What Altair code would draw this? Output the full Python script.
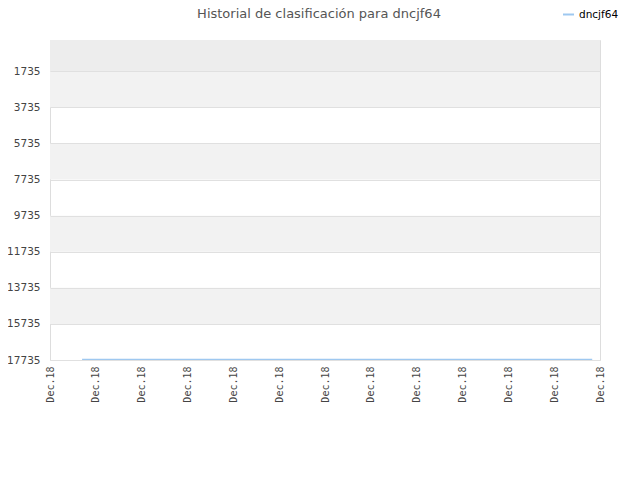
import altair as alt
import pandas as pd

# --- data ---
series_name = "dncjf64"
line_x = [0.7, 2.0, 4.0, 6.0, 8.0, 10.0, 11.83]
line_rank = [17700, 17700, 17700, 17700, 17700, 17700, 17700]

y_ticks = [1735, 3735, 5735, 7735, 9735, 11735, 13735, 15735, 17735]
x_ticks = list(range(13))
x_tick_labels = ["Dec.18"] * 13

band_start = [0, 1735, 5735, 9735, 13735]
band_end = [1735, 3735, 7735, 11735, 15735]
band_shade = ["dark", "light", "light", "light", "light"]

line_df = pd.DataFrame({"x": line_x, "rank": line_rank, "series": [series_name] * len(line_x)})
band_df = pd.DataFrame({"y": band_start, "y2": band_end, "shade": band_shade})

y_scale = alt.Scale(domain=[0, 17735], reverse=True, nice=False, zero=False)
x_scale = alt.Scale(domain=[0, 12], nice=False, zero=False)

label_arr = "[" + ",".join("'%s'" % s for s in x_tick_labels) + "]"

bands = alt.Chart(band_df).mark_rect().encode(
    x=alt.value(0),
    x2=alt.value(550),
    y=alt.Y("y:Q", scale=y_scale, axis=alt.Axis(
        values=y_ticks, tickCount=20, format="d", labelOverlap=False, title=None,
        domain=False, ticks=False, grid=True, gridColor="#e0e0e0", gridWidth=1, zindex=1,
        labelFont="DejaVu Sans", labelFontSize=10.5, labelColor="#444444",
        labelPadding=10)),
    y2="y2:Q",
    color=alt.Color("shade:N", scale=alt.Scale(domain=["dark", "light"], range=["#ededed", "#f2f2f2"]), legend=None),
)

line = alt.Chart(line_df).mark_line(strokeWidth=1.3).encode(
    x=alt.X("x:Q", scale=x_scale, axis=alt.Axis(
        values=x_ticks, tickCount=20, labelExpr=label_arr + "[datum.value]", title=None,
        labelOverlap=False, domain=False, ticks=False, grid=False, labelAngle=-90,
        labelFont="DejaVu Sans Mono", labelFontSize=10, labelColor="#444444",
        labelPadding=6)),
    y=alt.Y("rank:Q", scale=y_scale),
    color=alt.Color("series:N", scale=alt.Scale(range=["#9ec8f0"]), legend=alt.Legend(
        title=None, orient="none", legendX=512, legendY=-32, symbolType="stroke",
        symbolSize=121, symbolStrokeWidth=2, labelFont="DejaVu Sans", labelFontSize=10.5,
        labelColor="#000000")),
)

chart = alt.layer(bands, line).resolve_scale(color="independent").properties(
    width=550, height=320,
    autosize=alt.AutoSizeParams(type="none"),
    padding={"left": 42, "top": 32, "right": 32, "bottom": 112},
    title=alt.TitleParams("Historial de clasificación para dncjf64", font="DejaVu Sans",
                          fontSize=13, fontWeight="normal", color="#555555",
                          anchor="middle", dx=-6, offset=-13),
).configure_view(stroke="#dddddd")

chart.save("out.html", embed_options={"renderer": "svg", "actions": False})
